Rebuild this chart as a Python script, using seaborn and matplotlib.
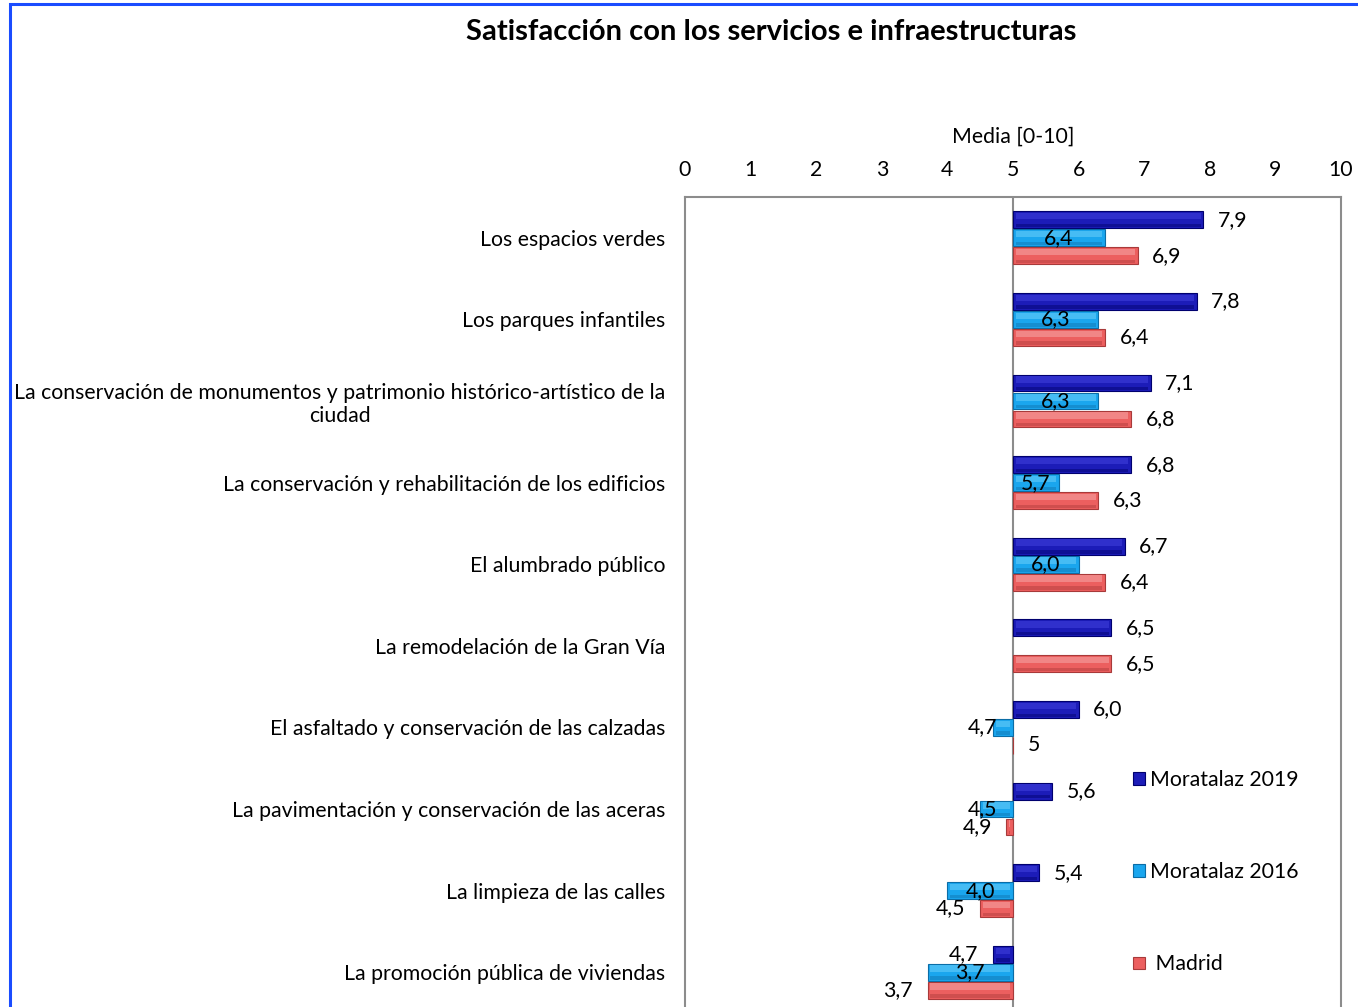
import numpy as np
import pandas as pd
import matplotlib.pyplot as plt
from matplotlib.patches import Rectangle
import seaborn as sns

# datos
categorias = [
    "Los espacios verdes",
    "Los parques infantiles",
    "La conservación de monumentos y patrimonio histórico-artístico de la\nciudad",
    "La conservación y rehabilitación de los edificios",
    "El alumbrado público",
    "La remodelación de la Gran Vía",
    "El asfaltado y conservación de las calzadas",
    "La pavimentación y conservación de las aceras",
    "La limpieza de las calles",
    "La promoción pública de viviendas",
]
series = ["Moratalaz 2019", "Moratalaz 2016", " Madrid"]
moratalaz_2019 = [7.9, 7.8, 7.1, 6.8, 6.7, 6.5, 6.0, 5.6, 5.4, 4.7]
moratalaz_2016 = [6.4, 6.3, 6.3, 5.7, 6.0, np.nan, 4.7, 4.5, 4.0, 3.7]
madrid = [6.9, 6.4, 6.8, 6.3, 6.4, 6.5, 5.0, 4.9, 4.5, 3.7]
ticks = list(range(0, 11))
base = 5

colores = ["#1C1CB8", "#1AA6EE", "#EC5F5F"]
bordes = ["#00006E", "#0B6DA6", "#A83A3A"]
brillos = ["#3636D2", "#52C2F6", "#F39090"]
sombras = ["#0A0A86", "#1384C4", "#C44848"]

valores = [moratalaz_2019, moratalaz_2016, madrid]
df = pd.DataFrame([
    {"categoria": c, "serie": s, "dif": v - base}
    for s, vals in zip(series, valores)
    for c, v in zip(categorias, vals)
]).dropna()

sns.set_theme(style="white")
plt.rcParams["font.family"] = ["Lato", "DejaVu Sans"]
plt.rcParams.update({"text.color": "black", "axes.labelcolor": "black",
                     "xtick.color": "black", "ytick.color": "black"})
fs = 15.3

fig = plt.figure(figsize=(13.58, 10.07), dpi=100)
ax = fig.add_axes([0.5044, -0.006, 0.4831, 0.8104])

sns.barplot(data=df, y="categoria", x="dif", hue="serie", order=categorias,
            hue_order=series, palette=colores, saturation=1, orient="h",
            width=0.66, gap=0.06, errorbar=None, left=base, ax=ax, zorder=3,
            legend=False)

# bordes y bisel
for cont, borde, brillo, sombra in zip(ax.containers, bordes, brillos, sombras):
    for p in cont.patches:
        p.set_edgecolor(borde)
        p.set_linewidth(0.8)
        x, y, w, h = p.get_x(), p.get_y(), p.get_width(), p.get_height()
        if w == 0:
            continue
        d = 0.04 if w > 0 else -0.04
        ax.add_patch(Rectangle((x + d, y + 0.1 * h), w - 2 * d, 0.38 * h,
                               facecolor=brillo, edgecolor="none", alpha=0.8, zorder=4))
        ax.add_patch(Rectangle((x + d, y + 0.74 * h), w - 2 * d, 0.2 * h,
                               facecolor=sombra, edgecolor="none", alpha=0.7, zorder=4))

ax.axvline(base, color="#8c8c8c", lw=1.5, zorder=2)

# etiquetas de valor
for j, vals in enumerate(valores):
    for i, v in enumerate(vals):
        if np.isnan(v):
            continue
        y = i + (j - 1) * 0.22
        txt = (f"{v:g}" if j == 2 else f"{v:.1f}").replace(".", ",")
        if j == 1 and v < base and base - v < 0.8:
            ax.annotate(txt, (base, y), xytext=(-11.5, 0), textcoords="offset points",
                        ha="right", va="center", fontsize=fs, zorder=6)
        elif j == 1:
            ax.annotate(txt, (base + (v - base) / 2, y), ha="center", va="center",
                        fontsize=fs, zorder=6)
        elif v >= base:
            ax.annotate(txt, (v, y), xytext=(10.5, 0), textcoords="offset points",
                        ha="left", va="center", fontsize=fs, zorder=6)
        else:
            ax.annotate(txt, (v, y), xytext=(-10.5, 0), textcoords="offset points",
                        ha="right", va="center", fontsize=fs, zorder=6)

ax.set_xlim(0, 10)
ax.set_ylim(len(categorias) - 0.5, -0.5)
ax.set_xticks(ticks)
ax.xaxis.tick_top()
ax.xaxis.set_label_position("top")
ax.set_xlabel("Media [0-10]", fontsize=fs, labelpad=12)
ax.set_ylabel("")
ax.tick_params(axis="x", length=0, pad=12.5, labelsize=fs)
ax.tick_params(axis="y", length=0, pad=14, labelsize=fs)
for t in ax.get_yticklabels():
    t.set_multialignment("center")
for s in ax.spines.values():
    s.set_color("#8c8c8c")
    s.set_linewidth(1.5)

handles = [Rectangle((0, 0), 1, 1, facecolor=c, edgecolor=b, lw=0.8)
           for c, b in zip(colores, bordes)]
ax.legend(handles, series, loc="upper left", bbox_to_anchor=(1133 / 1358, 1 - 770 / 1007),
          bbox_transform=fig.transFigure, frameon=False, fontsize=fs,
          labelspacing=3.4, handlelength=0.55, handleheight=0.55,
          handletextpad=0.25, borderpad=0, borderaxespad=0)

fig.text(771 / 1358, 1 - 32 / 1007, "Satisfacción con los servicios e infraestructuras",
         ha="center", va="center", fontsize=21, fontweight="bold")

# marco exterior azul
fig.patches.append(Rectangle((10 / 1358, -0.05), 1.1, 1.05 - 4 / 1007,
                             transform=fig.transFigure, fill=False,
                             edgecolor="#1A4CFF", lw=2.2))

fig.savefig("out.png", dpi=100)
